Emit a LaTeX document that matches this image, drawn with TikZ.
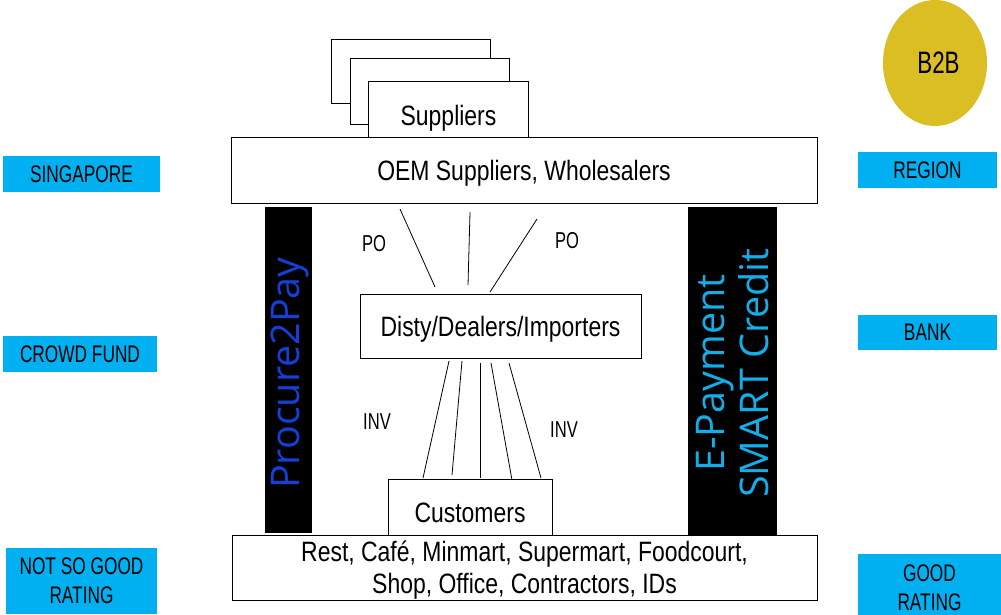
\documentclass[tikz,border=0pt]{standalone}
\usepackage{fontspec}
\usetikzlibrary{shapes.geometric}
\newfontfamily\boxfont{Liberation Sans}[FakeStretch=0.82]
\newfontfamily\tagfont{Liberation Sans}[FakeStretch=0.72]
\newfontfamily\barfont{Open Sans}
\definecolor{tagcyan}{HTML}{00B0F0}
\definecolor{barblue}{HTML}{1440D8}
\definecolor{barcyan}{HTML}{12AEEA}
\definecolor{goldfill}{HTML}{DBBD24}
\tikzset{
  plainbox/.style={draw=black, line width=1pt, fill=white, inner sep=0pt, align=center,
    text depth=0pt, font=\boxfont\fontsize{28}{32}\selectfont},
  tagbox/.style={fill=tagcyan, inner sep=0pt, align=center,
    font=\tagfont\fontsize{24}{29}\selectfont},
  blackbar/.style={fill=black, inner sep=0pt},
  bartext/.style={rotate=90, align=center, font=\barfont\fontsize{39.5}{44}\selectfont},
  flow/.style={line width=0.8pt, draw=black},
  flowlabel/.style={font=\tagfont\fontsize{23}{24}\selectfont}
}
\begin{document}
\begin{tikzpicture}[x=1pt, y=-1pt]
\useasboundingbox (0,0) rectangle (1001,614);

% stacked supplier sheets
\node[plainbox, minimum width=159pt, minimum height=64pt] (sheetA) at (410.5,71) {};
\node[plainbox, minimum width=159pt, minimum height=66pt] (sheetB) at (429.5,91) {};
\node[plainbox, minimum width=160pt, minimum height=68pt] (suppliers) at (448.5,115) {Suppliers};

% main tier boxes
\node[plainbox, minimum width=586pt, minimum height=66pt] (oem) at (524,170) {OEM Suppliers, Wholesalers};
\node[plainbox, minimum width=281pt, minimum height=64pt] (disty) at (500.5,326) {Disty/Dealers/Importers};
\node[plainbox, minimum width=164pt, minimum height=68pt] (customers) at (470,513) {Customers};
\node[plainbox, minimum width=585pt, minimum height=65pt] (outlets) at (524.5,567.5)
  {Rest, Café, Minmart, Supermart, Foodcourt,\\Shop, Office, Contractors, IDs};

% side bars
\node[blackbar, minimum width=47pt, minimum height=326pt] (leftbar) at (288.5,370) {};
\node[bartext, text=barblue] (p2p) at (290,373) {Procure2Pay};
\node[blackbar, minimum width=89pt, minimum height=328pt] (rightbar) at (732.5,371) {};
\node[bartext, text=barcyan] (epay) at (733,373) {E-Payment\\SMART Credit};

% purchase order lines
\coordinate (poA1) at (400,209); \coordinate (poA2) at (435,287);
\coordinate (poB1) at (470,212); \coordinate (poB2) at (468,285);
\coordinate (poC1) at (537,219); \coordinate (poC2) at (490,292);
\draw[flow] (poA1) -- (poA2);
\draw[flow] (poB1) -- (poB2);
\draw[flow] (poC1) -- (poC2);
\node[flowlabel] (poL) at (374,244) {PO};
\node[flowlabel] (poR) at (567,241) {PO};

% invoice lines
\coordinate (invA1) at (449,361); \coordinate (invA2) at (423,478);
\coordinate (invB1) at (462,361); \coordinate (invB2) at (452,475);
\coordinate (invC1) at (480,363); \coordinate (invC2) at (480,478);
\coordinate (invD1) at (491,363); \coordinate (invD2) at (512,480);
\coordinate (invE1) at (509,363); \coordinate (invE2) at (541,478);
\draw[flow] (invA1) -- (invA2);
\draw[flow] (invB1) -- (invB2);
\draw[flow] (invC1) -- (invC2);
\draw[flow] (invD1) -- (invD2);
\draw[flow] (invE1) -- (invE2);
\node[flowlabel] (invL) at (377,422) {INV};
\node[flowlabel] (invR) at (564,430) {INV};

% left tags
\node[tagbox, minimum width=157pt, minimum height=36pt] (singapore) at (81.5,174) {SINGAPORE};
\node[tagbox, minimum width=154pt, minimum height=36pt] (crowd) at (80,354) {CROWD FUND};
\node[tagbox, minimum width=151pt, minimum height=66pt] (notgood) at (81.5,581) {NOT SO GOOD\\RATING};

% right tags
\node[ellipse, fill=goldfill, minimum width=104pt, minimum height=126pt, inner sep=0pt,
  font=\tagfont\fontsize{31}{32}\selectfont] (b2b) at (935,63) {\hspace*{7pt}B2B};
\node[tagbox, minimum width=139pt, minimum height=36pt] (region) at (927.5,170) {REGION};
\node[tagbox, minimum width=139pt, minimum height=35pt] (bank) at (927.5,332.5) {BANK};
% runs past the lower edge of the page
\node[tagbox, minimum width=143pt, minimum height=68pt] (good) at (929.5,588) {GOOD\\RATING};
\end{tikzpicture}
\end{document}
